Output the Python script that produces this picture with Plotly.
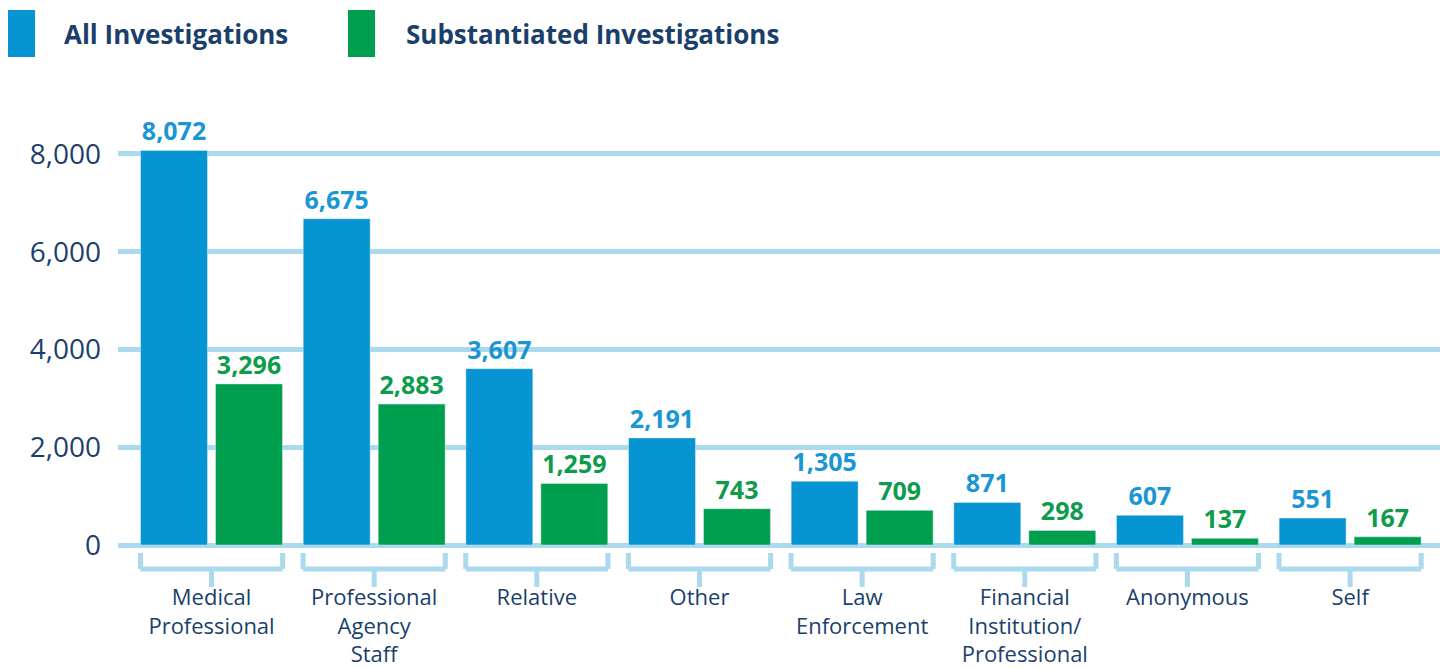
import plotly.graph_objects as go

categories = ["Medical<br>Professional", "Professional<br>Agency<br>Staff", "Relative", "Other",
              "Law<br>Enforcement", "Financial<br>Institution/<br>Professional", "Anonymous", "Self"]
all_inv = [8072, 6675, 3607, 2191, 1305, 871, 607, 551]
subst_inv = [3296, 2883, 1259, 743, 709, 298, 137, 167]
series_names = ["All Investigations", "Substantiated Investigations"]
y_ticks = [0, 2000, 4000, 6000, 8000]

BLUE = "#0794d2"
GREEN = "#009f4d"
BLUE_TXT = "#1a96d4"
GREEN_TXT = "#0d9b4c"
NAVY = "#1b3f6b"
GRID = "#abd9ee"
FONT = "Open Sans"

OFF = 8  # page body margin offset
W, H = 1448 - OFF, 668 - OFF
L, R, T, B = 118 - OFF, 6, 110 - OFF, 123
PW, PH = W - L - R, H - T - B

def px_y(py):
    return (H - B - (py - OFF)) / PH

def px_x(px):
    return (px - OFF - L) / PW

fig = go.Figure()
fig.add_trace(go.Bar(x=categories, y=all_inv, name=series_names[0], marker_color=BLUE,
                     text=[f"{v:,}" for v in all_inv], textposition="outside",
                     textfont=dict(color=BLUE_TXT, size=25, family=FONT, weight="bold"),
                     cliponaxis=False))
fig.add_trace(go.Bar(x=categories, y=subst_inv, name=series_names[1], marker_color=GREEN,
                     text=[f"{v:,}" for v in subst_inv], textposition="outside",
                     textfont=dict(color=GREEN_TXT, size=25, family=FONT, weight="bold"),
                     cliponaxis=False))

shapes = []
half = 0.437
for i in range(len(categories)):
    for (x0, y0, x1, y1) in [(i - half, 553, i - half, 569), (i + half, 553, i + half, 569),
                             (i - half, 569, i + half, 569), (i, 569, i, 587)]:
        shapes.append(dict(type="line", xref="x", yref="paper", x0=x0, x1=x1,
                           y0=px_y(y0), y1=px_y(y1), line=dict(color=GRID, width=5)))

# legend swatches
for (xa, xb, col) in [(8, 35, BLUE), (348, 375, GREEN)]:
    shapes.append(dict(type="rect", xref="paper", yref="paper", x0=px_x(xa), x1=px_x(xb),
                       y0=px_y(57), y1=px_y(10), fillcolor=col, line=dict(width=0)))

annotations = []
for (xl, name) in [(62, series_names[0]), (404, series_names[1])]:
    annotations.append(dict(xref="paper", yref="paper", x=px_x(xl), y=px_y(34), text=name,
                            showarrow=False, xanchor="left", yanchor="middle",
                            font=dict(family=FONT, size=26, color=NAVY, weight="bold")))

fig.update_layout(
    width=W, height=H, margin=dict(l=L, r=R, t=T, b=B, autoexpand=False),
    paper_bgcolor="white", plot_bgcolor="white",
    barmode="group", bargap=0.078, bargroupgap=0.107,
    showlegend=False, shapes=shapes, annotations=annotations,
    font=dict(family=FONT, color=NAVY),
)
fig.update_xaxes(range=[-0.575, 7.565], showgrid=False, showline=False, ticks="", automargin=False,
                 tickfont=dict(size=22, color=NAVY, family=FONT), ticklabelstandoff=37)
fig.update_yaxes(range=[0, 8900], tickvals=y_ticks, tickformat=",", showgrid=True, automargin=False,
                 gridcolor=GRID, gridwidth=5, zeroline=True, zerolinecolor=GRID, zerolinewidth=5,
                 showline=False, ticks="", tickfont=dict(size=28, color=NAVY, family=FONT),
                 ticklabelstandoff=16)

fig.write_html("out.html")
